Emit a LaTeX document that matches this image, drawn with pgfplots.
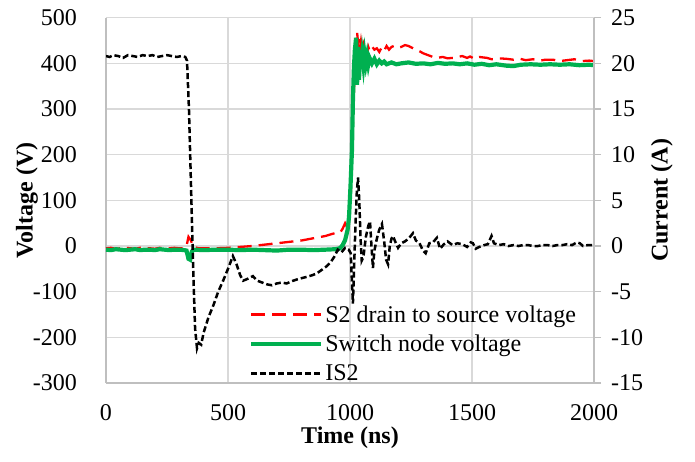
\documentclass[border=0pt]{standalone}
\usepackage{fontspec}
\setmainfont{Liberation Serif}
\usepackage{pgfplots}
\pgfplotsset{compat=1.18}
\definecolor{gridc}{HTML}{D9D9D9}
\definecolor{axc}{HTML}{BFBFBF}
\definecolor{exgreen}{HTML}{00B050}
\begin{document}
\begin{tikzpicture}[font=\fontsize{24}{28}\selectfont]
\pgfplotsset{
  base/.style={
    width=488pt, height=365.3pt, scale only axis,
    xmin=0, xmax=2000,
    /pgf/number format/assume math mode=true,
    /pgf/number format/set thousands separator={},
    tick label style={inner sep=0pt, font=\fontsize{24}{28}\selectfont},
  }
}
\begin{axis}[base, name=main,
  ymin=-300, ymax=500,
  xtick={0,500,...,2000}, ytick={-300,-200,...,500},
  axis x line*=bottom, axis y line*=left,
  axis line style={draw=axc, line width=1.2pt},
  major tick length=0pt,
  grid=major, major grid style={draw=gridc, line width=1.2pt},
  yticklabel style={anchor=east, xshift=-29pt},
  xticklabel style={anchor=north, yshift=-21pt},
  xlabel={\bfseries Time (ns)},
  ylabel={\bfseries Voltage (V)},
  xlabel style={at={(axis description cs:0.5,-0.149)}, anchor=center},
  ylabel style={at={(axis description cs:-0.162,0.5)}, anchor=center},
]
\addplot[red, line width=2.3pt, dash pattern=on 14pt off 7pt] coordinates {
(0,-5) (20,-4) (40,-6) (60,-5) (80,-4) (100,-5) (120,-6) (140,-4) (160,-5) (180,-5)
(200,-6) (220,-4) (240,-5) (260,-5) (280,-4) (300,-5) (320,-5) (330,0) (338,20) (348,12)
(358,-2) (380,-5) (400,-5) (450,-5) (500,-4) (550,-2) (600,0) (650,3) (700,6) (750,9)
(800,12) (850,17) (900,22) (930,27) (959,29) (970,38) (980,50) (988,42) (996,57) (1003,110)
(1010,240) (1016,340) (1021,393) (1025,440) (1029,469) (1033,445) (1037,455) (1041,432) (1045,448) (1050,428)
(1055,440) (1060,425) (1065,438) (1070,422) (1075,436) (1080,428) (1090,437) (1100,430) (1110,433) (1120,425)
(1130,435) (1140,428) (1150,438) (1160,430) (1170,436) (1180,438) (1195,434) (1210,436) (1225,440) (1240,438)
(1255,434) (1270,430) (1287,426) (1300,422) (1320,418) (1340,414) (1356,412) (1380,414) (1400,411) (1422,412)
(1440,414) (1460,416) (1480,412) (1492,415) (1510,410) (1530,414) (1561,412) (1580,409) (1610,411) (1640,410)
(1670,408) (1697,410) (1720,407) (1750,409) (1780,406) (1800,408) (1832,408) (1860,405) (1890,407) (1920,409)
(1950,405) (1980,406) (2000,405)
};
\addplot[exgreen, line width=4.2pt] coordinates {
(0,-8) (20,-9) (40,-7) (60,-8) (80,-9) (100,-8) (120,-7) (140,-9) (160,-8) (180,-8)
(200,-9) (220,-7) (240,-8) (260,-9) (280,-8) (300,-8) (320,-9) (330,-10) (338,-28) (345,-30)
(352,-12) (360,-8) (400,-9) (450,-8) (500,-8) (550,-9) (600,-8) (650,-9) (700,-10) (750,-8)
(800,-8) (850,-9) (900,-8) (940,-7) (959,-5) (970,2) (980,13) (990,35) (996,64) (1002,130)
(1008,210) (1012,320) (1016,390) (1020,430) (1025,456) (1029,353) (1033,436) (1037,364) (1041,425) (1045,390)
(1050,418) (1055,395) (1060,420) (1065,400) (1070,416) (1075,398) (1080,412) (1090,400) (1100,410) (1110,398)
(1120,406) (1130,400) (1140,404) (1150,398) (1170,402) (1190,398) (1210,400) (1240,402) (1270,399) (1300,400)
(1330,398) (1360,401) (1390,399) (1420,400) (1450,398) (1480,400) (1510,397) (1540,399) (1570,396) (1600,398)
(1640,395) (1670,394) (1700,397) (1740,398) (1780,397) (1820,398) (1860,397) (1900,398) (1940,396) (1980,397)
(2000,396)
};
\end{axis}
\begin{axis}[base,
  ymin=-15, ymax=25, ytick={-15,-10,...,25},
  axis x line=none, axis y line*=right,
  axis line style={draw=axc, line width=1.2pt},
  ytick align=outside, major tick length=7pt,
  tick style={draw=axc, line width=1.2pt},
  yticklabel style={anchor=west, xshift=10pt},
  ylabel={\bfseries Current (A)},
  ylabel style={at={(axis description cs:1.139,0.5)}, anchor=center, rotate=0},
  legend style={draw=none, fill=none, inner sep=0pt, row sep=7.5pt,
    at={(axis description cs:0.293,0.218)}, anchor=north west,
    font=\fontsize{24}{28}\selectfont},
  legend cell align=left,
  legend image code/.code={\draw[#1] (0pt,0pt) -- (70pt,0pt);},
]
\addlegendimage{red, line width=2.3pt, dash pattern=on 14pt off 7pt}
\addlegendentry{S2 drain to source voltage}
\addlegendimage{exgreen, line width=4.2pt}
\addlegendentry{Switch node voltage}
\addplot[black, line width=2.5pt, dash pattern=on 6pt off 3pt] coordinates {
(0,20.8) (15,20.7) (30,20.9) (50,20.8) (70,20.6) (90,20.9) (110,20.8) (130,20.7) (150,20.9) (170,20.8)
(190,20.9) (210,20.7) (230,20.8) (250,20.9) (270,20.8) (290,20.7) (310,20.8) (325,20.7) (332,20.3) (340,15)
(350,5) (358,-3) (365,-9) (373,-11.2) (380,-10.6) (390,-10.8) (400,-9.5) (420,-7.8) (440,-6.5) (460,-5)
(480,-3.8) (500,-2.5) (520,-1.1) (535,-2) (550,-3.2) (562,-3.8) (580,-3.6) (602,-3.3) (620,-3.8) (640,-4)
(660,-4.2) (680,-4.3) (700,-4.1) (720,-4) (740,-4.1) (767,-3.8) (790,-3.6) (820,-3.4) (845,-3.2) (864,-3.0)
(885,-2.6) (905,-2.2) (920,-1.8) (935,-1.2) (950,-0.4) (965,-0.7) (980,-0.2) (995,-0.4) (1003,-0.8) (1008,-4)
(1012,-6.3) (1016,-3) (1022,2) (1028,6) (1033,7.5) (1038,5) (1043,1) (1048,-1.6) (1055,-1.2) (1065,1)
(1075,2.2) (1082,2.7) (1088,0) (1094,-2.4) (1100,-0.5) (1110,0.8) (1120,1.8) (1131,2.4) (1140,0.5) (1148,-1.5)
(1156,-2.0) (1163,0) (1170,0.8) (1176,1.1) (1185,0.5) (1197,-0.2) (1210,0.3) (1225,0.5) (1240,0.8) (1258,1.4)
(1270,0.6) (1285,0.3) (1299,-0.5) (1310,-0.8) (1325,0.3) (1340,0.4) (1356,0.9) (1369,-0.3) (1385,0.2) (1400,0.5)
(1420,0.1) (1440,0.3) (1460,0.2) (1480,-0.1) (1495,0.4) (1504,0.3) (1515,-0.3) (1530,-0.1) (1550,0.1) (1565,0.2)
(1580,1.1) (1590,0.3) (1610,0.1) (1630,0.2) (1650,0) (1670,0.1) (1690,0) (1710,0.1) (1730,0.1) (1750,0)
(1770,0) (1790,0.1) (1810,0.1) (1830,0) (1850,0.1) (1870,0.1) (1890,0.2) (1910,0.1) (1930,0.4) (1942,0.3)
(1955,0) (1975,0.1) (1990,0.1) (2000,0.1)
};
\addlegendentry{IS2}
\end{axis}
\path (main.south west) ++(-106pt,-79pt) rectangle ++(695pt,462pt);
\end{tikzpicture}
\end{document}
